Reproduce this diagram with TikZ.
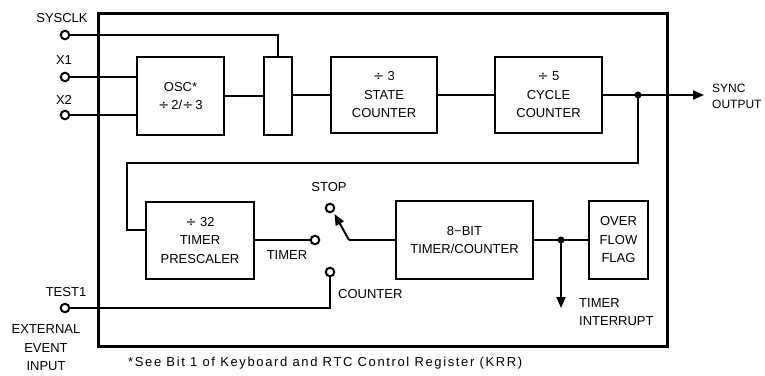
\documentclass[tikz,border=0pt]{standalone}
\usepackage{fontspec}
\setmainfont{Liberation Sans}
\newfontfamily\divfont{DejaVu Sans}
\newcommand{\dv}{{\divfont ÷}}
\usetikzlibrary{arrows.meta,calc}
\begin{document}
\begin{tikzpicture}[x=1pt,y=-1pt,
  lbl/.style={font=\fontsize{13}{18.5}\selectfont, inner sep=0pt, align=center},
  blk/.style={draw, line width=2.6pt, inner sep=0pt, align=center, font=\fontsize{13}{18.5}\selectfont},
  wire/.style={line width=2pt},
  term/.style={circle, draw, line width=2pt, fill=white, minimum size=8.5pt, inner sep=0pt},
  dotn/.style={circle, fill=black, minimum size=7pt, inner sep=0pt},
  arr/.style={wire, -{Triangle[length=11pt,width=9pt]}}
]
\useasboundingbox (0,0) rectangle (765,375);
% outer frame
\node[draw, line width=3pt, minimum width=569pt, minimum height=333pt, inner sep=0pt] (frame) at (382.5,179.5) {};
% blocks
\node[blk, minimum width=87pt, minimum height=78pt] (osc) at (180.5,96) {OSC*\\\dv\,2/\dv\,3};
\node[blk, minimum width=28pt, minimum height=78pt] (mux) at (278,96) {};
\node[blk, minimum width=106pt, minimum height=76pt] (state) at (384,95) {\dv\ 3\\STATE\\COUNTER};
\node[blk, minimum width=107pt, minimum height=76pt] (cycle) at (548.5,95) {\dv\ 5\\CYCLE\\COUNTER};
\node[blk, minimum width=108pt, minimum height=77pt] (pres) at (200,240.5) {\dv\ 32\\TIMER\\PRESCALER};
\node[blk, minimum width=137pt, minimum height=78pt] (tc) at (464.5,240) {8−BIT\\TIMER/COUNTER};
\node[blk, minimum width=59pt, minimum height=78pt] (ovf) at (618.5,240) {OVER\\FLOW\\FLAG};
% coordinates
\coordinate (sysclkc) at (65,35);
\coordinate (x1c) at (65,77);
\coordinate (x2c) at (65,115);
\coordinate (test1c) at (65,308);
\coordinate (timerc) at (315,240);
\coordinate (stopc) at (330,208);
\coordinate (counterc) at (330,272);
\coordinate (pivot) at (349,240);
\coordinate (syncdotc) at (638,95);
\coordinate (syncend) at (704,95);
\coordinate (intdotc) at (561,240);
\coordinate (intend) at (561,308);
\coordinate (stoparr) at (334.5,214);
% wires
\draw[wire] (sysclkc) -- (278,35) -- (mux.north);
\draw[wire] (x1c) -- (x1c -| osc.west);
\draw[wire] (x2c) -- (x2c -| osc.west);
\draw[wire] (osc.east) -- (mux.west);
\draw[wire] (mux.east |- state.west) -- (state.west);
\draw[wire] (state.east) -- (cycle.west);
\draw[wire] (cycle.east) -- (syncdotc);
\draw[arr] (syncdotc) -- (syncend);
\draw[wire] (syncdotc) -- (638,163) -- (127,163) -- (127,230) -- (pres.west |- 0,230);
\draw[wire] (pres.east |- timerc) -- (timerc);
\draw[wire] (tc.west |- pivot) -- (pivot);
\draw[arr] (pivot) -- (stoparr);
\draw[wire] (counterc) -- (counterc |- test1c) -- (test1c);
\draw[wire] (tc.east |- intdotc) -- (ovf.west |- intdotc);
\draw[arr] (intdotc) -- (intend);
% dots and terminals
\node[dotn] (syncdot) at (syncdotc) {};
\node[dotn] (intdot) at (intdotc) {};
\node[term] (sysclk) at (sysclkc) {};
\node[term] (x1) at (x1c) {};
\node[term] (x2) at (x2c) {};
\node[term] (test1) at (test1c) {};
\node[term] (timert) at (timerc) {};
\node[term] (stopt) at (stopc) {};
\node[term] (countert) at (counterc) {};
% labels
\node[lbl] (lsysclk) at (62,18) {SYSCLK};
\node[lbl] (lx1) at (64,60) {X1};
\node[lbl] (lx2) at (64,100) {X2};
\node[lbl, align=left, anchor=west, font=\fontsize{12}{16}\selectfont] (lsync) at (712,96) {SYNC\\OUTPUT};
\node[lbl] (ltimer) at (287,255) {TIMER};
\node[lbl] (lstop) at (329,187) {STOP};
\node[lbl, anchor=west] (lcounter) at (338,294) {COUNTER};
\node[lbl] (ltest1) at (66,292) {TEST1};
\node[lbl] (lext) at (46,348) {EXTERNAL\\EVENT\\INPUT};
\node[lbl, align=left, anchor=west] (lint) at (579,312) {TIMER\\INTERRUPT};
\node[lbl, anchor=west, font=\fontsize{13}{18.5}\selectfont\addfontfeature{LetterSpace=12.5}] (lnote) at (128,363) {*See Bit 1 of Keyboard and RTC Control Register (KRR)};
\end{tikzpicture}
\end{document}
